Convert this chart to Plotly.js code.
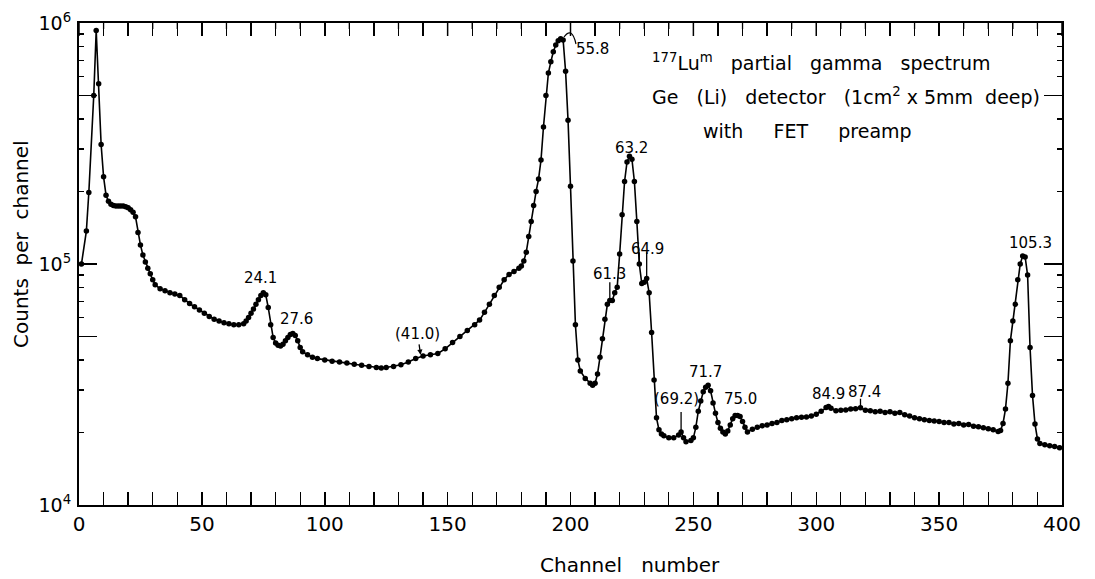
<!DOCTYPE html>
<html>
<head>
<meta charset="utf-8">
<script src="https://cdn.plot.ly/plotly-3.0.1.min.js"></script>
<style>html,body{margin:0;padding:0;background:#fff;}#chart{width:1095px;height:579px;}</style>
</head>
<body>
<div id="chart"></div>
<script>
// ---- data ----
const channel = [1,3,4,6,7,8,9,10,11,12,13,14,15,16,17,18,19,20,21,22,23,24,25,26,27,28,29,30,31,33,35,37,39,41,43,45,47,49,51,53,55,57,59,61,63,65,67,68,69,70,71,72,73,74,75,76,77,78,79,80,81,82,83,84,85,86,87,88,89,90,91,93,95,97,100,103,106,109,112,115,118,121,123,125,128,131,134,137,140,143,146,149,152,155,158,161,163,165,167,169,171,173,175,177,179,180,181,182,183,184,185,186,187,188,189,190,191,192,193,194,195,196,197,198,199,200,201,202,203,204,206,208,209,210,211,212,213,214,215,216,217,218,219,220,221,222,223,224,225,226,227,228,229,230,231,232,233,234,235,236,237,238,240,242,244,245,246,247,249,250,251,252,253,254,255,256,257,258,259,260,261,262,263,264,265,266,267,268,269,270,271,272,274,276,278,280,282,284,286,288,290,292,294,296,298,300,302,304,305,306,308,310,312,314,316,318,320,322,324,326,328,330,332,334,336,338,340,342,344,346,348,350,352,354,356,358,360,362,364,366,368,370,372,374,375,376,377,378,379,380,381,382,383,384,385,386,387,388,389,390,391,393,395,397,399];
const counts = [1.0e5,1.37e5,1.98e5,5.0e5,9.3e5,5.6e5,3.13e5,2.3e5,1.93e5,1.82e5,1.77e5,1.75e5,1.74e5,1.74e5,1.74e5,1.74e5,1.73e5,1.71e5,1.68e5,1.64e5,1.57e5,1.35e5,1.2e5,1.09e5,1.02e5,9.6e4,9.1e4,8.6e4,8.2e4,7.9e4,7.75e4,7.6e4,7.5e4,7.4e4,7.1e4,6.85e4,6.65e4,6.45e4,6.25e4,6.05e4,5.9e4,5.8e4,5.7e4,5.65e4,5.6e4,5.6e4,5.65e4,5.8e4,6.0e4,6.25e4,6.5e4,6.8e4,7.1e4,7.4e4,7.6e4,7.45e4,6.6e4,5.6e4,4.95e4,4.7e4,4.6e4,4.57e4,4.65e4,4.8e4,4.95e4,5.1e4,5.15e4,5.05e4,4.8e4,4.5e4,4.32e4,4.2e4,4.1e4,4.05e4,4.0e4,3.95e4,3.92e4,3.88e4,3.84e4,3.8e4,3.76e4,3.72e4,3.7e4,3.72e4,3.76e4,3.82e4,3.92e4,4.05e4,4.15e4,4.2e4,4.25e4,4.45e4,4.72e4,5.0e4,5.3e4,5.6e4,5.85e4,6.3e4,6.8e4,7.4e4,8.0e4,8.6e4,9.05e4,9.3e4,9.6e4,9.8e4,1.03e5,1.12e5,1.3e5,1.5e5,1.75e5,2.0e5,2.25e5,2.7e5,3.7e5,5.0e5,6.2e5,6.9e5,7.6e5,8.1e5,8.45e5,8.6e5,8.5e5,6.3e5,3.95e5,2.1e5,1.03e5,5.6e4,4.0e4,3.6e4,3.35e4,3.2e4,3.14e4,3.2e4,3.5e4,4.1e4,4.9e4,5.9e4,6.8e4,7.05e4,7.05e4,7.6e4,8.0e4,1.1e5,1.6e5,2.2e5,2.65e5,2.8e5,2.72e5,2.2e5,1.5e5,1.0e5,8.3e4,8.4e4,8.7e4,7.6e4,5.2e4,3.3e4,2.3e4,2.05e4,1.97e4,1.94e4,1.9e4,1.9e4,1.95e4,2.01e4,1.9e4,1.83e4,1.85e4,1.9e4,2.1e4,2.45e4,2.7e4,2.95e4,3.08e4,3.14e4,2.98e4,2.65e4,2.4e4,2.2e4,2.08e4,2.01e4,1.97e4,2.03e4,2.15e4,2.28e4,2.35e4,2.35e4,2.33e4,2.22e4,2.1e4,2.01e4,2.06e4,2.1e4,2.13e4,2.15e4,2.18e4,2.2e4,2.24e4,2.26e4,2.28e4,2.3e4,2.31e4,2.32e4,2.34e4,2.38e4,2.45e4,2.54e4,2.56e4,2.52e4,2.46e4,2.47e4,2.48e4,2.5e4,2.51e4,2.53e4,2.47e4,2.46e4,2.44e4,2.45e4,2.42e4,2.44e4,2.4e4,2.42e4,2.37e4,2.34e4,2.3e4,2.28e4,2.26e4,2.24e4,2.23e4,2.22e4,2.2e4,2.2e4,2.17e4,2.18e4,2.15e4,2.16e4,2.12e4,2.11e4,2.09e4,2.07e4,2.05e4,2.02e4,2.04e4,2.18e4,2.5e4,3.2e4,4.8e4,5.8e4,6.8e4,8.6e4,1.0e5,1.08e5,1.07e5,9.0e4,4.5e4,2.85e4,2.17e4,1.88e4,1.8e4,1.78e4,1.76e4,1.75e4,1.73e4];

// peak labels (energies, keV)
const labelText = ['24.1','27.6','55.8','61.3','63.2','64.9','(69.2)','71.7','75.0','84.9','87.4','105.3'];
const labelChannel = [73.7,88.3,208.8,215.7,224.8,231.5,243.3,255.1,269,304.8,319.8,387];
const labelCounts = [8.75e4,5.92e4,7.8e5,9.1e4,3.03e5,1.15e5,2.76e4,3.56e4,2.76e4,2.89e4,2.94e4,1.22e5];

// label with arrow: (41.0) pointing at the curve
const arrowText = '(41.0)';
const arrowChannel = 139;
const arrowCounts = 4.2e4;

// peak marker lines (channel, top, bottom)
const markChannel = [216,228,231,245,318];
const markTop = [8.4e4,1.12e5,1.12e5,2.43e4,2.76e4];
const markBottom = [7.05e4,1.0e5,8.7e4,2.01e4,2.52e4];

// axis ticks
const xTicks = [0,50,100,150,200,250,300,350,400];
const xMinorStep = 10;
const yLabelTicks = [1e4,1e5,1e6];
const yTickText = ['10<sup>4</sup>','10<sup>5</sup>','10<sup>6</sup>'];
const yHalfTicks = [5e4,5e5];
const yAllMajor = [1e4,5e4,1e5,5e5,1e6];
const yMinor = [2e4,3e4,4e4,6e4,7e4,8e4,9e4,2e5,3e5,4e5,6e5,7e5,8e5,9e5];

const FONT = 'DejaVu Sans, Arial, sans-serif';
const NB = '\u00A0';
const sp = n => NB.repeat(n);

const annotations = [];
labelText.forEach((t,i)=>{
  annotations.push({x:labelChannel[i], y:Math.log10(labelCounts[i]), xref:'x', yref:'y',
    text:t, showarrow:false, font:{family:FONT,size:15,color:'#000'}, xanchor:'center', yanchor:'middle'});
});
annotations.push({x:arrowChannel, y:Math.log10(arrowCounts), xref:'x', yref:'y', text:arrowText,
  showarrow:true, ax:-3, ay:-21, arrowhead:2, arrowsize:0.8, arrowwidth:1.3, arrowcolor:'#000', standoff:0,
  font:{family:FONT,size:15,color:'#000'}});
// inset caption
annotations.push({xref:'paper',yref:'paper',x:(650-79)/983,y:(505-62)/482,xanchor:'left',yanchor:'middle',showarrow:false,
  text:'<sup>177</sup>Lu<sup>m</sup>'+sp(3)+'partial'+sp(3)+'gamma'+sp(3)+'spectrum',font:{family:FONT,size:19,color:'#000'}});
annotations.push({xref:'paper',yref:'paper',x:(650-79)/983,y:(505-96)/482,xanchor:'left',yanchor:'middle',showarrow:false,
  text:'Ge'+sp(3)+'(Li)'+sp(3)+'detector'+sp(3)+'(1cm<sup>2</sup>'+sp(1)+'x'+sp(1)+'5mm'+sp(2)+'deep)',font:{family:FONT,size:19,color:'#000'}});
annotations.push({xref:'paper',yref:'paper',x:(701-79)/983,y:(505-131)/482,xanchor:'left',yanchor:'middle',showarrow:false,
  text:'with'+sp(5)+'FET'+sp(5)+'preamp',font:{family:FONT,size:19,color:'#000'}});
// axis titles
annotations.push({xref:'paper',yref:'paper',x:(630-79)/983,y:(505-565)/482,xanchor:'center',yanchor:'middle',showarrow:false,
  text:'Channel'+sp(3)+'number',font:{family:FONT,size:20,color:'#000'}});
annotations.push({xref:'paper',yref:'paper',x:(21-79)/983,y:(505-244)/482,xanchor:'center',yanchor:'middle',showarrow:false,textangle:-90,
  text:'Counts'+sp(2)+'per'+sp(2)+'channel',font:{family:FONT,size:20,color:'#000'}});

const shapes = markChannel.map((c,i)=>({type:'line', xref:'x', yref:'y', x0:c, x1:c,
  y0:markBottom[i], y1:markTop[i], line:{color:'#000', width:1.3}}));
// small arc over the 55.8 keV peak
shapes.push({type:'path', xref:'paper', yref:'paper', line:{color:'#000', width:1.2},
  path:'M '+((564-79)/983)+' '+((505-37)/482)+' Q '+((572-79)/983)+' '+((505-26)/482)+' '+((576-79)/983)+' '+((505-44)/482)});
// tick marks along the top frame (same positions as the bottom axis ticks)
for(let v = xTicks[0]; v <= xTicks[xTicks.length-1]; v += xMinorStep){
  const major = xTicks.indexOf(v) >= 0;
  shapes.push({type:'line', xref:'x', yref:'paper', x0:v, x1:v, y0:1, y1:1-(major?13:6)/482,
    line:{color:'#000', width:major?1.5:1.3}});
}

const trace = {
  x: channel, y: counts, type:'scatter', mode:'lines+markers',
  line:{color:'#000', width:1.6}, marker:{color:'#000', size:5.5}, hoverinfo:'x+y'
};
const dummyRight = {x:[], y:[], xaxis:'x', yaxis:'y2', type:'scatter', mode:'markers', hoverinfo:'skip'};
const dummyLeft = {x:[], y:[], xaxis:'x', yaxis:'y3', type:'scatter', mode:'markers', hoverinfo:'skip'};

const tickCommon = {ticks:'inside', tickcolor:'#000', showgrid:false, zeroline:false, showline:true, linewidth:2, linecolor:'#000'};

const layout = {
  width:1095, height:579,
  margin:{l:79, r:33, t:23, b:74},
  paper_bgcolor:'#fff', plot_bgcolor:'#fff',
  showlegend:false,
  font:{family:FONT, color:'#000'},
  xaxis:Object.assign({range:[0,400], mirror:'allticks', tickmode:'array', tickvals:xTicks, ticklen:13, tickwidth:1.5,
    tickfont:{family:FONT,size:20,color:'#000'},
    minor:{dtick:xMinorStep, tick0:0, ticks:'inside', ticklen:6, tickwidth:1.3, tickcolor:'#000', showgrid:false}}, tickCommon),
  yaxis:Object.assign({type:'log', range:[4,6], tickmode:'array', tickvals:yLabelTicks, ticktext:yTickText, ticklen:18, tickwidth:1.5,
    ticklabelstandoff:2, tickfont:{family:FONT,size:19,color:'#000'},
    minor:{tickmode:'array', tickvals:yMinor, ticks:'inside', ticklen:5, tickwidth:1.3, tickcolor:'#000', showgrid:false}}, tickCommon),
  yaxis3:Object.assign({type:'log', range:[4,6], overlaying:'y', side:'left', anchor:'x', tickmode:'array', tickvals:yHalfTicks,
    ticklen:18, tickwidth:1.5, showticklabels:false}, tickCommon),
  yaxis2:Object.assign({type:'log', range:[4,6], overlaying:'y', side:'right', anchor:'x', tickmode:'array', tickvals:yAllMajor,
    ticklen:18, tickwidth:1.5, showticklabels:false,
    minor:{tickmode:'array', tickvals:yMinor, ticks:'inside', ticklen:5, tickwidth:1.3, tickcolor:'#000', showgrid:false}}, tickCommon),
  annotations: annotations,
  shapes: shapes
};

Plotly.newPlot('chart', [trace, dummyRight, dummyLeft], layout, {staticPlot:true, displayModeBar:false});
</script>
</body>
</html>
